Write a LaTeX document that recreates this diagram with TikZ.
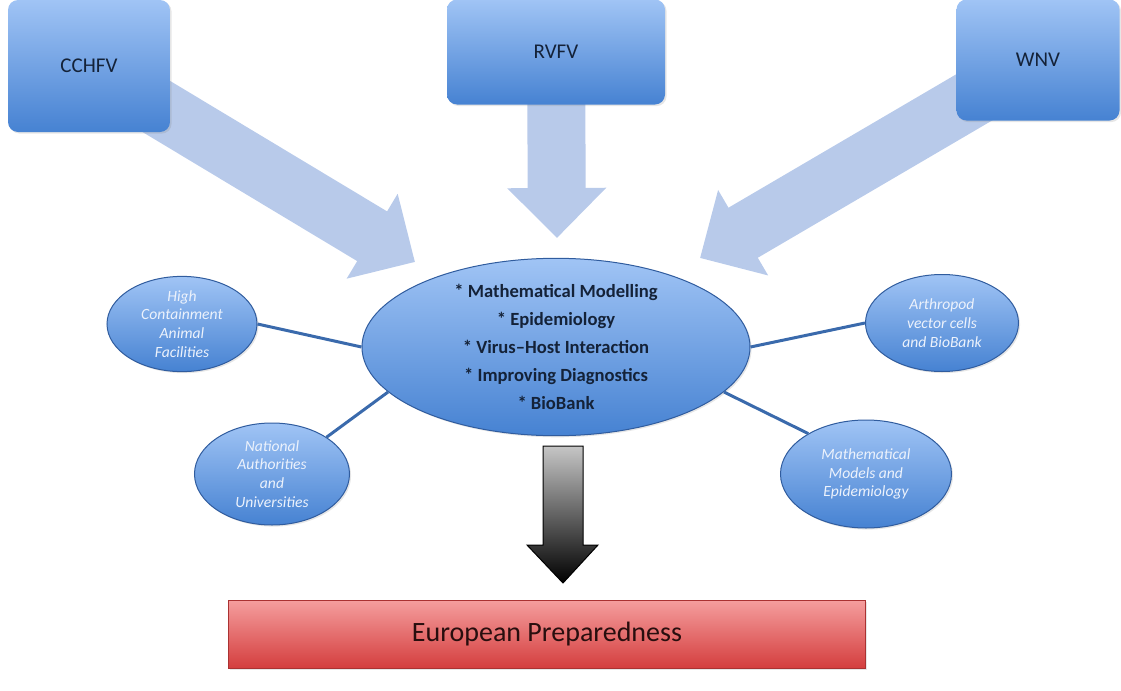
\documentclass[tikz,border=0pt]{standalone}
\usepackage{fontspec}
\setmainfont{Carlito}
\usetikzlibrary{shapes.geometric,arrows.meta,backgrounds,shadows,calc}
\definecolor{boxtop}{RGB}{160,196,245}
\definecolor{boxbot}{RGB}{70,130,210}
\definecolor{navy}{RGB}{20,34,56}
\definecolor{arrowblue}{RGB}{184,202,234}
\definecolor{linkblue}{RGB}{58,106,172}
\definecolor{rimblue}{RGB}{48,92,158}
\definecolor{satext}{RGB}{236,242,252}
\definecolor{redtop}{RGB}{245,158,158}
\definecolor{redbot}{RGB}{212,62,62}
\definecolor{redrim}{RGB}{170,50,50}
\begin{document}
\begin{tikzpicture}[x=0.5pt,y=-0.5pt,
  topbox/.style={rounded corners=5pt, top color=boxtop, bottom color=boxbot, text=navy,
    font=\fontsize{10.5}{12}\selectfont, drop shadow={opacity=0.2,shadow xshift=0.8pt,shadow yshift=-0.8pt}},
  blob/.style={ellipse, inner sep=0pt, draw=rimblue, line width=0.5pt, top color=boxtop, bottom color=boxbot,
    drop shadow={opacity=0.2,shadow xshift=0.8pt,shadow yshift=-0.8pt}},
  satellite/.style={blob, align=center, text=satext, font=\fontsize{7.8}{9.4}\selectfont\itshape},
  fatarrow/.style={arrowblue, line width=29pt, -{Triangle[width=48pt,length=25pt]}},
  link/.style={linkblue, line width=1.5pt}]
\useasboundingbox (0,0) rectangle (1121,691);

\node[topbox, minimum width=81pt, minimum height=66pt] (cchfv) at (89,66) {CCHFV};
\node[topbox, minimum width=109pt, minimum height=52.5pt] (rvfv) at (556,52) {RVFV};
\node[topbox, minimum width=81.5pt, minimum height=60.5pt] (wnv) at (1038,60) {WNV};

\coordinate (tipl) at (415,262);
\coordinate (tipm) at (557,238);
\coordinate (tipr) at (700,258);

\begin{scope}[on background layer]
  \draw[fatarrow] (cchfv.center) -- (tipl);
  \draw[fatarrow] (rvfv.center) -- (tipm);
  \draw[fatarrow] (wnv.center) -- (tipr);
\end{scope}

\node[blob, minimum width=194pt, minimum height=85pt, align=center, text=navy,
  font=\fontsize{9.3}{14}\selectfont\bfseries] (hub) at (556,347)
  {* Mathematical Modelling\\ * Epidemiology\\ * Virus--Host Interaction\\ * Improving Diagnostics\\ * BioBank};

\node[satellite, minimum width=75pt, minimum height=46pt] (hca) at (182,324)
  {High\\ Containment\\ Animal\\ Facilities};
\node[satellite, minimum width=77.5pt, minimum height=51pt] (nau) at (272,474)
  {National\\ Authorities\\ and\\ Universities};
\node[satellite, minimum width=76.5pt, minimum height=48.5pt] (avb) at (942,323)
  {Arthropod\\ vector cells\\ and BioBank};
\node[satellite, minimum width=85.5pt, minimum height=54pt] (mme) at (866,474)
  {Mathematical\\ Models and\\ Epidemiology};

\draw[link] (hca.east) -- (hub.west);
\draw[link] (nau.34) -- (hub.195);
\draw[link] (avb.west) -- (hub.east);
\draw[link] (mme.145) -- (hub.345);

\node[draw=redrim, line width=0.4pt, top color=redtop, bottom color=redbot, text={rgb,255:red,40;green,14;blue,14},
  minimum width=318.5pt, minimum height=34pt, font=\fontsize{14}{16}\selectfont,
  drop shadow={opacity=0.2,shadow xshift=0.8pt,shadow yshift=-0.8pt}] (prep) at (547,634) {European Preparedness};

\coordinate (dtop) at (563,446);
\coordinate (dtip) at (563,583);
\draw[black, line width=0.5pt, top color=gray!45, bottom color=black]
  ($(dtop)+(-20,0)$) -- ($(dtop)+(20,0)$) -- ($(dtip)+(20,-38)$) -- ($(dtip)+(35,-38)$) -- (dtip)
  -- ($(dtip)+(-36,-38)$) -- ($(dtip)+(-20,-38)$) -- cycle;
\end{tikzpicture}
\end{document}
